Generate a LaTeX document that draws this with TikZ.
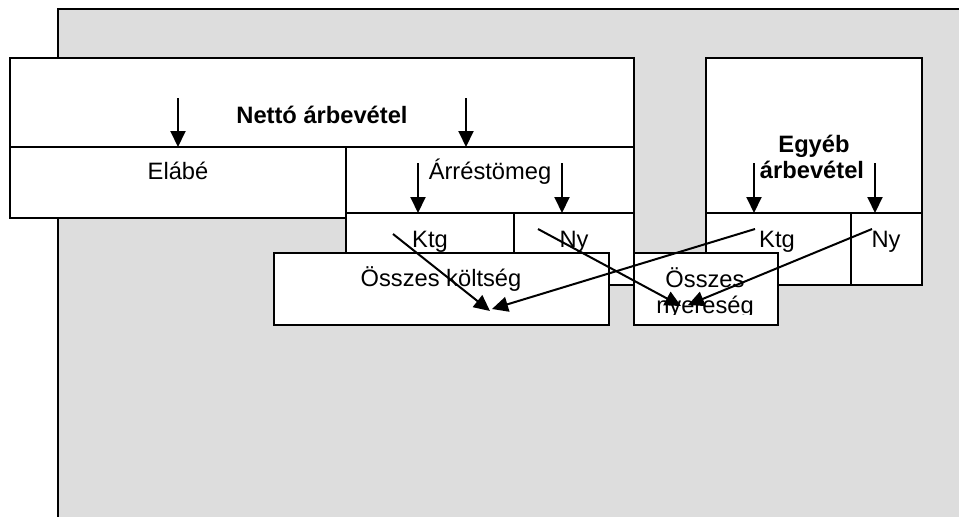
\documentclass[tikz,border=0pt]{standalone}
\usepackage{fontspec}
\setmainfont{Liberation Sans}
\usetikzlibrary{arrows.meta}
\definecolor{bggray}{RGB}{221,221,221}
\tikzset{
  box/.style={draw, fill=white, line width=2pt, inner sep=0pt, rectangle},
  lbl/.style={anchor=base, inner sep=0pt, font=\fontsize{23.7}{28}\selectfont},
  blbl/.style={lbl, font=\fontsize{23.7}{28}\selectfont\bfseries},
  arr/.style={line width=2pt, -{Triangle[length=16pt,width=15pt]}}
}
\begin{document}
\begin{tikzpicture}[x=1pt,y=-1pt]
\useasboundingbox (0,0) rectangle (959,517);
% background panel
\fill[bggray] (58,9) rectangle (962,520);
\draw[line width=2pt] (58,520) -- (58,9) -- (962,9);
% boxes
\node[box, minimum width=624pt, minimum height=89pt] (netto) at (322,102.5) {};
\node[box, minimum width=336pt, minimum height=71pt] (elabe) at (178,182.5) {};
\node[box, minimum width=288pt, minimum height=66pt] (arres) at (490,180) {};
\node[box, minimum width=168pt, minimum height=72pt] (ktgA) at (430,249) {};
\node[box, minimum width=120pt, minimum height=72pt] (nyA) at (574,249) {};
\node[box, minimum width=216pt, minimum height=155pt] (egyeb) at (814,135.5) {};
\node[box, minimum width=145pt, minimum height=72pt] (ktgB) at (778.5,249) {};
\node[box, minimum width=71pt, minimum height=72pt] (nyB) at (886.5,249) {};
% texts of upper boxes
\node[blbl] (tnetto) at (322,123) {Nettó árbevétel};
\node[lbl] (telabe) at (178,179) {Elábé};
\node[lbl] (tarres) at (490,179) {Árréstömeg};
\node[lbl] (tktgA) at (430,247) {Ktg};
\node[lbl] (tnyA) at (574,247) {Ny};
\node[blbl] (tegy1) at (814,152) {Egyéb};
\node[blbl] (tegy2) at (812,178) {árbevétel};
\node[lbl] (tktgB) at (777,247) {Ktg};
\node[lbl] (tnyB) at (886,247) {Ny};
% lower boxes
\node[box, minimum width=335pt, minimum height=72pt] (osszk) at (441.5,289) {};
\node[box, minimum width=144pt, minimum height=72pt] (osszny) at (706,289) {};
\node[lbl] (tosszk) at (441,286) {Összes költség};
\node[lbl] (tosszny) at (705,287) {Összes};
\begin{scope}
\clip (634,253) rectangle (778,314);
\node[lbl] (tosszny2) at (705,313) {nyereség};
\end{scope}
% arrow coordinates
\coordinate (a1s) at (178,98);  \coordinate (a1e) at (178,147);
\coordinate (a2s) at (466,98);  \coordinate (a2e) at (466,147);
\coordinate (a3s) at (418,163); \coordinate (a3e) at (418,213);
\coordinate (a4s) at (562,163); \coordinate (a4e) at (562,213);
\coordinate (a5s) at (754,163); \coordinate (a5e) at (754,213);
\coordinate (a6s) at (875,163); \coordinate (a6e) at (875,213);
\coordinate (d1s) at (393,234); \coordinate (d1e) at (490,311);
\coordinate (d2s) at (755,229); \coordinate (d2e) at (492,309);
\coordinate (d3s) at (538,229); \coordinate (d3e) at (681,306);
\coordinate (d4s) at (872,229); \coordinate (d4e) at (688,305);
% arrows
\draw[arr] (a1s) -- (a1e);
\draw[arr] (a2s) -- (a2e);
\draw[arr] (a3s) -- (a3e);
\draw[arr] (a4s) -- (a4e);
\draw[arr] (a5s) -- (a5e);
\draw[arr] (a6s) -- (a6e);
\draw[arr] (d1s) -- (d1e);
\draw[arr] (d2s) -- (d2e);
\draw[arr] (d3s) -- (d3e);
\draw[arr] (d4s) -- (d4e);
\end{tikzpicture}
\end{document}
